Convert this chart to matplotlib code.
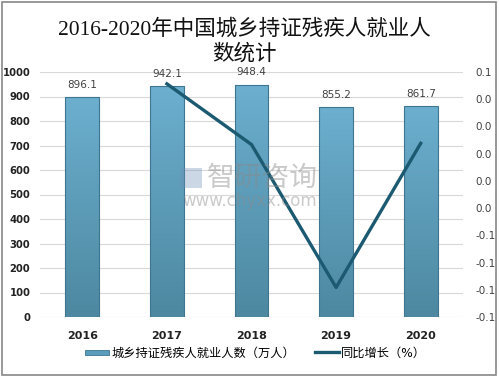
import numpy as np
import matplotlib.pyplot as plt
from matplotlib.colors import LinearSegmentedColormap
from matplotlib.patches import Rectangle
from matplotlib.lines import Line2D
from matplotlib.legend_handler import HandlerBase

plt.rcParams['font.family'] = ['DejaVu Sans', 'Noto Sans CJK SC']

# дані
years = ["2016", "2017", "2018", "2019", "2020"]
employed = [896.1, 942.1, 948.4, 855.2, 861.7]           # 万人
growth_years = ["2017", "2018", "2019", "2020"]
growth = [0.0513, 0.0067, -0.0983, 0.0076]             # 同比增长
right_ticks = [0.06, 0.04, 0.02, 0.0, -0.02, -0.04, -0.06, -0.08, -0.10, -0.12]
right_labels = ["0.1", "0.0", "0.0", "0.0", "0.0", "0.0", "-0.1", "-0.1", "-0.1", "-0.1"]

title = "2016-2020年中国城乡持证残疾人就业人\n数统计"
bar_name = "城乡持证残疾人就业人数（万人）"
line_name = "同比增长（%）"

bar_cmap = LinearSegmentedColormap.from_list("b", ["#4d88a0", "#6cafcf"])
line_color = "#1b5a70"

fig = plt.figure(figsize=(4.99, 3.77), dpi=100)
ax = fig.add_axes([40/499, 1-317/377, 423/499, 245/377])

x = np.arange(len(years))
bars = ax.bar(x, employed, width=0.4, color="none", edgecolor="#3f7590", linewidth=0.8, zorder=3)
grad = np.linspace(0, 1, 256).reshape(-1, 1)
for b in bars:
    im = ax.imshow(grad, cmap=bar_cmap, aspect="auto", origin="lower",
                   extent=[b.get_x(), b.get_x() + b.get_width(), 0, b.get_height()], zorder=2)
    im.set_clip_path(b)
for xi, v in zip(x, employed):
    ax.text(xi, v + 30, f"{v:.1f}", ha="center", va="bottom", fontsize=7.5, color="#404040", zorder=5)

ax.set_xlim(-0.5, len(years) - 0.5)
ax.set_ylim(0, 1000)
ax.set_yticks(range(0, 1001, 100))
ax.set_xticks(x)
ax.set_xticklabels(years, fontsize=8, fontweight="bold", color="#222222")
ax.tick_params(axis="y", labelsize=7.2, length=0, pad=7, labelcolor="#222222")
ax.tick_params(axis="x", length=0, pad=10)
for lab in ax.get_yticklabels():
    lab.set_fontweight("bold")
ax.grid(axis="y", color="#d9d9d9", linewidth=0.8, zorder=0)
for s in ax.spines.values():
    s.set_visible(False)

ax2 = ax.twinx()
gx = [years.index(y) for y in growth_years]
ax2.plot(gx, growth, color=line_color, linewidth=2.4, zorder=6)
ax2.set_ylim(-0.12, 0.06)
ax2.set_yticks(right_ticks)
ax2.set_yticklabels(right_labels)
ax2.tick_params(axis="y", labelsize=7.5, length=0, pad=9, labelcolor="#404040")
for s in ax2.spines.values():
    s.set_visible(False)

# водяний знак
fig.text(0.525, 0.528, "智研咨询", fontsize=20, color="#8a8a8a", alpha=0.45, ha="center", va="center")
fig.text(0.5, 0.467, "www.chyxx.com", fontsize=12, color="#8a8a8a", alpha=0.45, ha="center", va="center")
fig.add_artist(Rectangle((180/499, 1-188/377), 22/499, 20/377, transform=fig.transFigure,
                         facecolor="#6f8fb8", edgecolor="none", alpha=0.35))

fig.text(0.49, 1-42/377, title, fontsize=15.5, linespacing=1.3, ha="center", va="center",
         family=["Liberation Serif", "Noto Sans CJK SC"], color="#111111")


class GradHandler(HandlerBase):
    def create_artists(self, legend, orig, xd, yd, w, h, fontsize, trans):
        r = Rectangle((xd, yd + h * 0.2), w, h * 0.6, facecolor="#5a9cbc", edgecolor="#3f7590",
                      linewidth=0.6, transform=trans)
        return [r]


handles = [Rectangle((0, 0), 1, 1), Line2D([0], [0], color=line_color, linewidth=2.4)]
fig.legend(handles, [bar_name, line_name], loc="center left", bbox_to_anchor=(74/499, 1-353/377),
           ncol=2, frameon=False, fontsize=8.8, handlelength=2.0, handletextpad=0.15,
           columnspacing=1.6, handler_map={Rectangle: GradHandler()})

fig.add_artist(Rectangle((0.004, 0.005), 0.99, 0.99, transform=fig.transFigure,
                         fill=False, edgecolor="#888888", linewidth=1.2))

fig.savefig("out.png", dpi=100)
